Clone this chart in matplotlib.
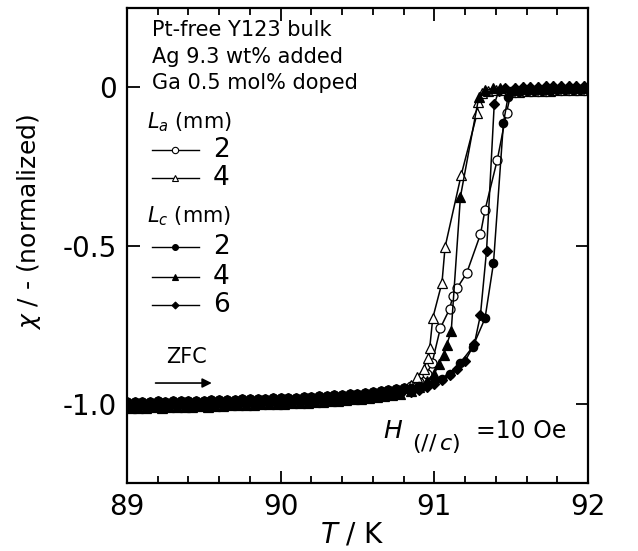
import numpy as np
import matplotlib
matplotlib.use("Agg")
import matplotlib.pyplot as plt
from matplotlib.lines import Line2D
from matplotlib.ticker import MultipleLocator

plt.rcParams['font.family'] = ['DejaVu Sans']
plt.rcParams['axes.unicode_minus'] = False
plt.rcParams['mathtext.fontset'] = 'dejavusans'

# --- datos ---
# tramo de baja temperatura, grupo A (La=2, La=4, Lc=2)
T_base_a = [89.00, 89.05, 89.10, 89.15, 89.20, 89.25, 89.30, 89.35, 89.40, 89.45,
            89.50, 89.55, 89.60, 89.65, 89.70, 89.75, 89.80, 89.85, 89.90, 89.95,
            90.00, 90.05, 90.10, 90.15, 90.20, 90.25, 90.30, 90.35, 90.40, 90.45,
            90.50, 90.55, 90.60, 90.65, 90.70, 90.75, 90.80]
chi_base_a = [-0.994, -0.995, -0.993, -0.994, -0.992, -0.993, -0.992, -0.991, -0.992, -0.990,
              -0.991, -0.989, -0.988, -0.989, -0.987, -0.986, -0.986, -0.984, -0.985, -0.983,
              -0.982, -0.981, -0.980, -0.979, -0.978, -0.976, -0.975, -0.973, -0.972, -0.970,
              -0.968, -0.966, -0.963, -0.960, -0.957, -0.953, -0.949]
# grupo B (Lc=4, Lc=6)
T_base_b = [89.025, 89.075, 89.125, 89.175, 89.225, 89.275, 89.325, 89.375, 89.425, 89.475,
            89.525, 89.575, 89.625, 89.675, 89.725, 89.775, 89.825, 89.875, 89.925, 89.975,
            90.025, 90.075, 90.125, 90.175, 90.225, 90.275, 90.325, 90.375, 90.425, 90.475,
            90.525, 90.575, 90.625, 90.675, 90.725, 90.775]
chi_base_b = [-1.013, -1.012, -1.014, -1.011, -1.012, -1.010, -1.011, -1.009, -1.010, -1.008,
              -1.009, -1.007, -1.007, -1.005, -1.005, -1.003, -1.003, -1.002, -1.001, -1.000,
              -0.999, -0.998, -0.997, -0.996, -0.994, -0.993, -0.991, -0.990, -0.988, -0.986,
              -0.984, -0.981, -0.979, -0.976, -0.972, -0.968]

# meseta por encima de Tc
T_top_a = [91.50, 91.55, 91.60, 91.65, 91.70, 91.75, 91.80, 91.85, 91.90, 91.95, 92.00]
chi_top_a = [-0.016, -0.014, -0.013, -0.012, -0.011, -0.011, -0.010, -0.010, -0.009, -0.009, -0.008]
T_top_b = [91.525, 91.575, 91.625, 91.675, 91.725, 91.775, 91.825, 91.875, 91.925, 91.975]
chi_top_b = [-0.001, 0.000, 0.001, 0.002, 0.003, 0.003, 0.004, 0.004, 0.005, 0.005]

# transiciones de cada muestra
T_la2 = [90.85, 90.90, 90.95, 90.985, 91.04, 91.10, 91.12, 91.15, 91.21, 91.30, 91.33, 91.41, 91.47]
chi_la2 = [-0.945, -0.93, -0.905, -0.872, -0.76, -0.70, -0.66, -0.633, -0.588, -0.465, -0.388, -0.229, -0.08]

T_la4 = [90.85, 90.89, 90.93, 90.96, 90.97, 90.99, 91.05, 91.07, 91.175, 91.28, 91.285, 91.31, 91.35, 91.40, 91.45]
chi_la4 = [-0.94, -0.915, -0.89, -0.856, -0.824, -0.729, -0.617, -0.505, -0.277, -0.08, -0.048, -0.018, -0.012, -0.010, -0.010]

T_lc2 = [90.85, 90.90, 90.95, 91.00, 91.05, 91.10, 91.17, 91.25, 91.33, 91.385, 91.45, 91.48]
chi_lc2 = [-0.95, -0.945, -0.94, -0.932, -0.922, -0.905, -0.87, -0.82, -0.73, -0.556, -0.112, -0.03]

T_lc4 = [90.85, 90.90, 90.95, 91.00, 91.03, 91.06, 91.08, 91.11, 91.17, 91.29, 91.33, 91.38, 91.43]
chi_lc4 = [-0.958, -0.948, -0.928, -0.905, -0.875, -0.846, -0.814, -0.771, -0.346, -0.03, -0.010, -0.004, -0.002]

T_lc6 = [90.85, 90.90, 90.95, 91.00, 91.05, 91.10, 91.15, 91.20, 91.26, 91.30, 91.34, 91.39, 91.42, 91.46]
chi_lc6 = [-0.962, -0.955, -0.947, -0.937, -0.926, -0.91, -0.89, -0.865, -0.812, -0.72, -0.516, -0.053, -0.012, -0.004]

x_ticks = [89, 90, 91, 92]
y_ticks = [-1.0, -0.5, 0]
y_ticklabels = ['-1.0', '-0.5', '0']

# estilo de cada serie: (marcador, relleno, tamano)
styles = {
    'la2': ('o', 'white', 6.5),
    'la4': ('^', 'white', 6.5),
    'lc2': ('o', 'black', 6.0),
    'lc4': ('^', 'black', 6.5),
    'lc6': ('D', 'black', 5.0),
}
series = {
    'la2': (T_base_a, chi_base_a, T_la2, chi_la2, T_top_a, chi_top_a),
    'la4': (T_base_a, chi_base_a, T_la4, chi_la4, T_top_a, chi_top_a),
    'lc2': (T_base_a, chi_base_a, T_lc2, chi_lc2, T_top_a, chi_top_a),
    'lc4': (T_base_b, chi_base_b, T_lc4, chi_lc4, T_top_b, chi_top_b),
    'lc6': (T_base_b, chi_base_b, T_lc6, chi_lc6, T_top_b, chi_top_b),
}

fig = plt.figure(figsize=(6.38, 5.51), dpi=100)
ax = fig.add_axes([0.199, 0.1234, 0.7226, 0.862])

# primero las abiertas, luego las llenas encima
for key in ['la2', 'la4', 'lc2', 'lc4', 'lc6']:
    Tb, cb, T, chi, Tt, ct = series[key]
    x = Tb + T + Tt
    y = cb + chi + ct
    m, fc, ms = styles[key]
    ax.plot(x, y, color='black', lw=1.1, marker=m, ms=ms, mfc=fc, mec='black', mew=0.9,
            clip_on=True, zorder=3)

ax.set_xlim(89, 92)
ax.set_ylim(-1.25, 0.25)
ax.set_xticks(x_ticks)
ax.set_xticklabels([str(v) for v in x_ticks])
ax.xaxis.set_minor_locator(MultipleLocator(0.2))
ax.set_yticks(y_ticks)
ax.set_yticklabels(y_ticklabels)

ax.tick_params(which='both', direction='in', top=True, right=True, width=1.3)
ax.tick_params(which='major', length=9, labelsize=20, pad=7)
ax.tick_params(which='minor', length=5)
for s in ax.spines.values():
    s.set_linewidth(1.6)

ax.set_xlabel('$T$ / K', fontsize=20)
ax.xaxis.set_label_coords(0.49, -0.078)
ax.set_ylabel(r'$\chi$ / - (normalized)', fontsize=18)
ax.yaxis.set_label_coords(-0.182, 0.55)

# textos
tr = ax.transAxes
for txt, fy in zip(['Pt-free Y123 bulk', 'Ag 9.3 wt% added', 'Ga 0.5 mol% doped'],
                   [0.954, 0.897, 0.842]):
    ax.text(0.054, fy, txt, transform=tr, fontsize=15, ha='left', va='center')

ax.text(0.043, 0.747, '$L_a$ (mm)', transform=tr, fontsize=15, ha='left', va='baseline')
ax.text(0.043, 0.549, '$L_c$ (mm)', transform=tr, fontsize=15, ha='left', va='baseline')

legend_rows = [('la2', '2', 0.701), ('la4', '4', 0.642),
               ('lc2', '2', 0.497), ('lc4', '4', 0.434), ('lc6', '6', 0.375)]
for key, lab, fy in legend_rows:
    m, fc, ms = styles[key]
    ax.add_line(Line2D([0.054, 0.156], [fy, fy], transform=tr, color='black', lw=1.0))
    ax.add_line(Line2D([0.105], [fy], transform=tr, marker=m, ms=ms * 0.7, mfc=fc,
                       mec='black', mew=0.8, color='black'))
    ax.text(0.187, fy, lab, transform=tr, fontsize=19, ha='left', va='center')

ax.text(0.13, 0.265, 'ZFC', transform=tr, fontsize=15, ha='center', va='center')
ax.annotate('', xy=(0.19, 0.2105), xytext=(0.056, 0.2105), xycoords=tr, textcoords=tr,
            arrowprops=dict(arrowstyle='-|>', color='black', lw=1.2, mutation_scale=14))

# H (// c) =10 Oe
ax.text(0.555, 0.095, '$H$', transform=tr, fontsize=18, ha='left', va='baseline')
ax.text(0.618, 0.070, r'$(//\,c)$', transform=tr, fontsize=16, ha='left', va='baseline')
ax.text(0.757, 0.095, '=10 Oe', transform=tr, fontsize=17, ha='left', va='baseline')

fig.savefig('out.png', dpi=100)
